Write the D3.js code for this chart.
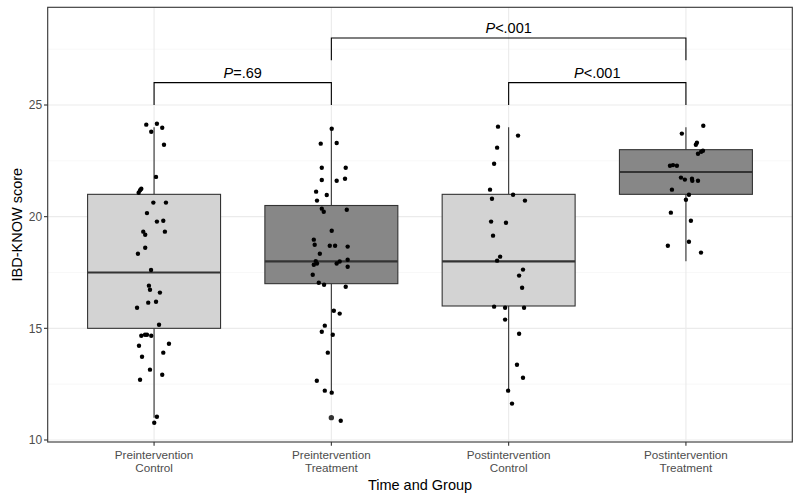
<!DOCTYPE html>
<html><head><meta charset="utf-8">
<script src="https://cdn.jsdelivr.net/npm/d3@7"></script>
<style>body{margin:0;background:#fff}svg{display:block}text{font-family:"Liberation Sans",Arial,sans-serif}</style>
</head><body><svg id="c" width="800" height="500"></svg>
<script>
const categories = ["Preintervention\nControl","Preintervention\nTreatment","Postintervention\nControl","Postintervention\nTreatment"];
const boxFills = ["#d3d3d3","#878787","#d3d3d3","#878787"];
const q1 = [15, 17, 16, 21];
const medians = [17.5, 18, 18, 22];
const q3 = [21, 20.5, 21, 23];
const whiskerLo = [11, 12.1, 12.2, 18];
const whiskerHi = [24, 24, 24, 24];
const outliers = [[], [11], [], []];
const yTicks = [10, 15, 20, 25];
const pointValues = [
 [24.12,24.16,23.98,23.80,23.22,21.78,21.25,21.18,21.07,20.63,20.63,20.16,19.78,19.82,19.33,19.19,19.33,18.61,18.34,17.61,16.91,16.73,16.60,16.15,16.19,15.92,15.16,14.67,14.71,14.71,14.67,14.31,14.22,13.91,13.73,13.15,12.92,12.70,11.04,10.77],
 [23.94,23.27,23.30,22.19,22.19,21.64,21.61,21.70,21.12,20.72,20.97,20.36,20.22,20.31,19.37,18.97,18.74,18.70,18.70,18.66,18.34,18.01,17.90,17.85,17.90,17.99,18.07,17.76,17.40,17.04,16.95,16.86,15.79,15.66,15.12,14.85,14.71,13.91,12.65,12.21,12.12,10.86],
 [24.03,23.63,23.09,22.37,21.21,20.98,20.80,20.72,19.78,19.73,19.15,18.21,18.03,17.63,17.36,16.82,15.97,15.92,15.92,15.39,14.76,13.37,12.79,12.21,11.63],
 [24.07,23.72,23.31,23.22,22.95,22.91,22.82,22.28,22.31,22.28,21.75,21.66,21.70,21.61,21.61,21.21,20.98,20.76,20.18,19.82,18.88,18.70,18.39]
];
// horizontal jitter, in category-width units
const pointJitter = [
 [-0.044,0.016,0.046,-0.016,0.056,0.011,-0.072,-0.079,-0.087,-0.004,0.067,-0.040,0.016,0.052,-0.061,-0.050,0.061,-0.050,-0.091,-0.017,-0.029,-0.023,0.033,-0.033,0.011,-0.096,0.028,-0.072,-0.051,-0.040,-0.016,0.084,-0.085,0.052,-0.068,-0.023,0.046,-0.079,0.016,0.001],
 [0.002,-0.060,0.030,-0.054,0.081,-0.054,0.030,0.077,-0.086,-0.081,-0.026,-0.054,-0.043,0.087,0.002,-0.099,-0.094,-0.009,0.021,0.092,-0.065,-0.088,-0.081,-0.099,0.030,0.047,0.092,0.092,-0.105,-0.071,-0.041,0.081,0.014,0.047,-0.037,-0.054,0.008,-0.020,-0.082,-0.037,0.002,0.053],
 [-0.060,0.053,-0.065,-0.082,-0.105,0.025,-0.094,0.092,-0.099,-0.015,-0.088,-0.048,-0.065,0.081,0.059,0.076,-0.082,-0.020,0.087,-0.020,0.059,0.047,0.081,-0.003,0.019],
 [0.098,-0.023,0.062,0.056,0.096,0.086,0.068,-0.090,-0.073,-0.051,-0.028,-0.006,0.034,0.036,0.068,-0.079,0.017,0.000,-0.085,0.028,0.017,-0.102,0.085]
];
const comparisons = [
 {from:0, to:1, bar:26, tip:25, label:"=.69"},
 {from:2, to:3, bar:26, tip:25, label:"<.001"},
 {from:1, to:3, bar:28, tip:27, label:"<.001"}
];

const svg = d3.select("#c");
const L = 47.7, R = 792.3, T = 7.3, B = 442;
// ggplot discrete expansion: 0.6 units each side
const unit = (R - L) / (categories.length - 1 + 1.2);
const x = d3.scaleLinear().domain([-0.6, categories.length - 1 + 0.6]).range([L, R]);
const cx = i => x(i);
const y = d3.scaleLinear().domain([9.91, 29.375]).range([B, T]);

// grid
const g = svg.append("g");
const minor = [12.5, 17.5, 22.5, 27.5];
g.selectAll(".mn").data(minor).enter().append("line")
 .attr("x1", L).attr("x2", R).attr("y1", d => y(d)).attr("y2", d => y(d))
 .attr("stroke", "#f3f3f3").attr("stroke-width", 0.6);
g.selectAll(".mj").data(yTicks).enter().append("line")
 .attr("x1", L).attr("x2", R).attr("y1", d => y(d)).attr("y2", d => y(d))
 .attr("stroke", "#ebebeb").attr("stroke-width", 1.1);
g.selectAll(".mx").data(categories).enter().append("line")
 .attr("x1", (d,i) => cx(i)).attr("x2", (d,i) => cx(i)).attr("y1", T).attr("y2", B)
 .attr("stroke", "#ebebeb").attr("stroke-width", 1.1);

// boxes
const bw = unit * 0.75;
categories.forEach((c, i) => {
  const gx = cx(i);
  g.append("line").attr("x1", gx).attr("x2", gx).attr("y1", y(whiskerHi[i])).attr("y2", y(q3[i]))
   .attr("stroke", "#333").attr("stroke-width", 1.1);
  g.append("line").attr("x1", gx).attr("x2", gx).attr("y1", y(q1[i])).attr("y2", y(whiskerLo[i]))
   .attr("stroke", "#333").attr("stroke-width", 1.1);
  g.append("rect").attr("x", gx - bw/2).attr("width", bw).attr("y", y(q3[i])).attr("height", y(q1[i]) - y(q3[i]))
   .attr("fill", boxFills[i]).attr("stroke", "#333").attr("stroke-width", 1.1);
  g.append("line").attr("x1", gx - bw/2).attr("x2", gx + bw/2).attr("y1", y(medians[i])).attr("y2", y(medians[i]))
   .attr("stroke", "#333").attr("stroke-width", 2.1);
  outliers[i].forEach(v => g.append("circle").attr("cx", gx).attr("cy", y(v)).attr("r", 2.7).attr("fill", "#333"));
  g.selectAll(null).data(pointValues[i]).enter().append("circle")
   .attr("cx", (d, k) => x(i + pointJitter[i][k])).attr("cy", d => y(d)).attr("r", 2.2).attr("fill", "#000");
});

// comparisons
comparisons.forEach(c => {
  const x1 = cx(c.from), x2 = cx(c.to);
  g.append("path").attr("d", `M${x1},${y(c.tip)}V${y(c.bar)}H${x2}V${y(c.tip)}`)
   .attr("fill", "none").attr("stroke", "#000").attr("stroke-width", 1.1);
  const t = g.append("text").attr("x", (x1 + x2)/2).attr("y", y(c.bar) - 5).attr("text-anchor", "middle")
   .attr("font-size", "14.5px").attr("fill", "#000");
  t.append("tspan").attr("font-style", "italic").text("P");
  t.append("tspan").text(c.label);
});

// panel border
svg.append("rect").attr("x", L).attr("y", T).attr("width", R - L).attr("height", B - T)
 .attr("fill", "none").attr("stroke", "#333").attr("stroke-width", 1.1);

// y axis
yTicks.forEach(v => {
  svg.append("line").attr("x1", L - 3.7).attr("x2", L).attr("y1", y(v)).attr("y2", y(v)).attr("stroke", "#333").attr("stroke-width", 1.1);
  svg.append("text").attr("x", L - 5.5).attr("y", y(v)).attr("dy", "0.36em").attr("text-anchor", "end")
   .attr("font-size", "12px").attr("fill", "#4d4d4d").text(v);
});
// x axis
categories.forEach((c, i) => {
  svg.append("line").attr("x1", cx(i)).attr("x2", cx(i)).attr("y1", B).attr("y2", B + 3.7).attr("stroke", "#333").attr("stroke-width", 1.1);
  const lines = c.split("\n");
  lines.forEach((ln, k) => svg.append("text").attr("x", cx(i)).attr("y", 459 + k * 13).attr("text-anchor", "middle")
   .attr("font-size", "11.7px").attr("fill", "#4d4d4d").text(ln));
});
svg.append("text").attr("x", (L + R)/2).attr("y", 490).attr("text-anchor", "middle").attr("font-size", "14.5px").attr("fill", "#000").text("Time and Group");
svg.append("text").attr("transform", `translate(22,${(T + B)/2}) rotate(-90)`).attr("text-anchor", "middle")
 .attr("font-size", "14.5px").attr("fill", "#000").text("IBD-KNOW score");
</script></body></html>
